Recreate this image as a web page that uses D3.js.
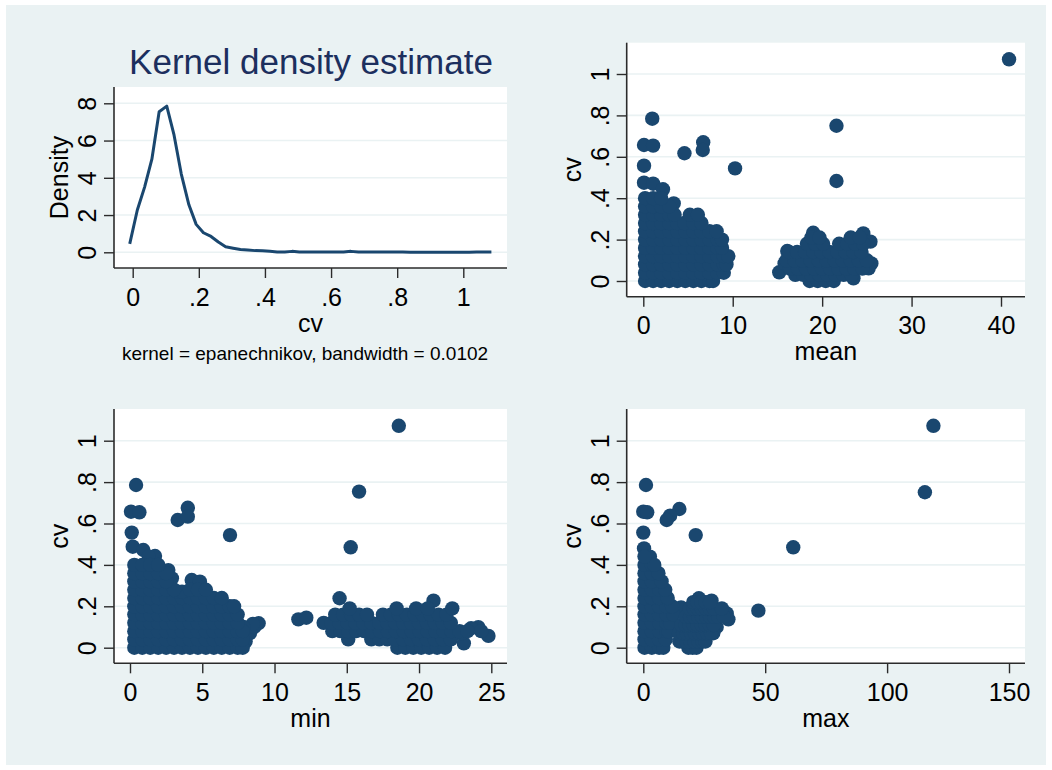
<!DOCTYPE html>
<html>
<head>
<meta charset="utf-8">
<script src="https://cdn.jsdelivr.net/npm/d3@7"></script>
<style>
  body { margin: 0; background: #ffffff; }
  svg { display: block; }
  text { font-family: "Liberation Sans", Arial, Helvetica, sans-serif; }
</style>
</head>
<body>
<svg id="chart" width="1052" height="770"></svg>
<script>
// ---------- data ----------
// Kernel density of cv (evaluation grid and estimated density)
const densityX = [-0.009, 0.014, 0.036, 0.058, 0.080, 0.103, 0.125, 0.147, 0.170, 0.192,
                  0.214, 0.237, 0.259, 0.281, 0.304, 0.326, 0.348, 0.371, 0.393, 0.415,
                  0.437, 0.460, 0.482, 0.504, 0.527, 0.549, 0.571, 0.594, 0.616, 0.638,
                  0.660, 0.683, 0.705, 0.727, 0.750, 0.772, 0.794, 0.817, 0.839, 0.861,
                  0.884, 0.906, 0.928, 0.951, 0.973, 0.995, 1.018, 1.040, 1.062, 1.085];
const densityY = [0.45, 2.27, 3.50, 5.00, 7.55, 7.85, 6.30, 4.20, 2.55, 1.50,
                  1.05, 0.85, 0.55, 0.30, 0.22, 0.15, 0.12, 0.09, 0.08, 0.05,
                  0.02, 0.01, 0.05, 0.02, 0.01, 0.01, 0.01, 0.01, 0.01, 0.02,
                  0.05, 0.01, 0.01, 0.01, 0.02, 0.01, 0.02, 0.01, 0.00, 0.00,
                  0.00, 0.00, 0.00, 0.00, 0.00, 0.00, 0.00, 0.01, 0.01, 0.01];

// cv against mean: [mean, cv]
const meanIsolated = [[40.9,1.071],[1.0,0.784],[0.08,0.657],[1.1,0.654],[4.6,0.617],[6.7,0.670],
  [6.65,0.633],[10.26,0.544],[21.6,0.750],[21.6,0.483],[0.08,0.557],[0.08,0.475],[1.1,0.47],
  [2.2,0.443],[3.4,0.375],[15.2,0.042],[16.1,0.145],[19.0,0.233],[24.6,0.23],[25.4,0.19],
  [25.5,0.085],[25.2,0.061],[23.5,0.013],[15.8,0.085]];
// dense groups, one row per cv level: [cv, [mean values]]
const meanDenseRows = [
  [0.00,[0.2,1.1,2.0,2.9,3.8,4.7,5.6,6.5,7.4,7.8]],
  [0.04,[0.2,1.1,2.0,2.9,3.8,4.7,5.6,6.5,7.4,8.3,9.0]],
  [0.08,[0.2,1.1,2.0,2.9,3.8,4.7,5.6,6.5,7.4,8.3,9.0,9.3]],
  [0.12,[0.2,1.1,2.0,2.9,3.8,4.7,5.6,6.5,7.4,8.3,9.0,9.5]],
  [0.16,[0.2,1.1,2.0,2.9,3.8,4.7,5.6,6.5,7.4,8.3,8.8]],
  [0.20,[0.2,1.1,2.0,2.9,3.8,4.7,5.6,6.5,7.4,8.3,8.8]],
  [0.24,[0.2,1.1,2.0,2.9,3.8,4.7,5.6,6.5,7.4,8.2]],
  [0.28,[0.2,1.1,2.0,2.9,3.8,4.6,5.6,6.5]],
  [0.32,[0.2,1.1,2.0,2.9,3.5,5.2,6.1]],
  [0.36,[0.2,1.1,2.0,2.9]],
  [0.40,[0.2,1.1,2.0]]
];
const meanUpperRows = [
  [0.00,[18.6,19.5,20.4,21.3]],
  [0.03,[17.0,17.9,18.8,19.7,20.6,21.5,22.4,23.3]],
  [0.06,[16.4,17.3,18.2,19.1,20.0,20.9,21.8,22.7,23.6,24.5]],
  [0.10,[16.0,16.9,17.8,18.7,19.6,20.5,21.4,22.3,23.2,24.1,25.0]],
  [0.14,[16.3,17.2,18.1,19.0,19.9,20.8,21.7,22.6,23.5,24.4]],
  [0.18,[18.3,19.2,20.1,21.9,22.8,23.7,24.6]],
  [0.21,[18.8,19.7,23.2,24.2]]
];

// cv against min: [min, cv]
const minIsolated = [[18.6,1.072],[0.42,0.786],[0.07,0.657],[0.65,0.654],[3.3,0.617],[4.0,0.676],
  [4.0,0.633],[6.92,0.544],[15.85,0.754],[15.27,0.485],[0.12,0.556],[0.19,0.488],[0.92,0.472],
  [1.73,0.443],[1.3,0.44],[2.65,0.375],[2.9,0.335],[4.27,0.327],[4.84,0.319],[11.65,0.137],[12.2,0.145],
  [8.0,0.03],[8.3,0.07],[8.6,0.10],[8.9,0.118],[8.5,0.115],[7.85,0.10],
  [14.5,0.239],[21.0,0.227],[24.8,0.057],[24.1,0.099],[23.6,0.094],[23.1,0.021],[22.95,0.07]];
const minDenseRows = [
  [0.00,[0.3,0.85,1.4,1.95,2.5,3.05,3.6,4.15,4.7,5.25,5.8,6.35,6.9,7.45,7.8]],
  [0.04,[0.3,0.85,1.4,1.95,2.5,3.05,3.6,4.15,4.7,5.25,5.8,6.35,6.9,7.45,7.8]],
  [0.08,[0.3,0.85,1.4,1.95,2.5,3.05,3.6,4.15,4.7,5.25,5.8,6.35,6.9,7.45,7.8]],
  [0.12,[0.3,0.85,1.4,1.95,2.5,3.05,3.6,4.15,4.7,5.25,5.8,6.35,6.9,7.45]],
  [0.16,[0.3,0.85,1.4,1.95,2.5,3.05,3.6,4.15,4.7,5.25,5.8,6.35,6.9,7.45]],
  [0.20,[0.3,0.85,1.4,1.95,2.5,3.05,3.6,4.15,4.7,5.25,5.8,6.35,6.9,7.2]],
  [0.24,[0.3,0.85,1.4,1.95,2.5,3.05,3.6,4.15,4.7,5.25,5.8,6.35]],
  [0.27,[3.3,3.6]],
  [0.28,[0.3,0.85,1.4,1.95,2.5,3.05,4.15,4.7,5.25]],
  [0.32,[0.3,0.85,1.4,1.95,2.5]],
  [0.36,[0.3,0.85,1.4,1.95,2.5]],
  [0.40,[0.3,0.85,1.4,1.95]]
];
const minUpperRows = [
  [0.00,[18.5,19.05,19.6,20.15,20.7,21.25,21.8]],
  [0.04,[15.1,16.7,17.25,17.8,18.35,18.9,19.45,20.0,20.55,21.1,21.65,22.2]],
  [0.08,[14.0,14.55,15.1,15.65,16.2,16.75,17.3,17.85,18.4,18.95,19.5,20.05,20.6,21.15,21.7,22.25,22.8,23.35,24.3]],
  [0.12,[13.4,13.95,14.5,15.05,15.6,16.15,16.7,17.25,17.8,18.35,18.9,19.45,20.0,20.55,21.1,21.65,22.2]],
  [0.16,[14.2,14.75,15.3,15.85,16.4,17.5,18.05,18.6,19.15,19.7,20.25,20.8,21.35,21.9]],
  [0.19,[15.2,18.45,19.8,20.6,22.3]]
];

// cv against max: [max, cv]
const maxIsolated = [[119,1.072],[115.5,0.751],[61.5,0.485],[47.2,0.179],[21.5,0.544],[14.8,0.67],
  [11,0.638],[9.6,0.617],[1.1,0.786],[0,0.657],[1.6,0.654],[0,0.556],[0.3,0.48],[2.7,0.44],
  [15.5,0.195],[22.8,0.239],[28.0,0.227],[34.2,0.166],[34.9,0.137],[30.1,0.10],[28.7,0.07]];
const maxDenseRows = [
  [0.00,[0.5,3.5,6.5,8.2]],
  [0.04,[0.5,3.5,6.5,9.2]],
  [0.08,[0.5,3.5,6.5,9.5,10.3]],
  [0.12,[0.5,3.5,6.5,9.5,11.0]],
  [0.16,[0.5,3.5,6.5,9.5,12.3]],
  [0.20,[0.5,3.5,6.5,9.5,11.8]],
  [0.24,[0.5,3.5,6.5,10.0]],
  [0.28,[0.5,3.5,6.5,9.0]],
  [0.32,[0.5,3.5,7.5]],
  [0.36,[0.5,3.5,6.2]],
  [0.40,[0.5,3.5,4.5]],
  [0.44,[0.5]]
];
const maxUpperRows = [
  [0.00,[18.5,20.2,21.8]],
  [0.03,[14.8,16.0,17.7,19.3,21.0,22.6,24.3,25.5]],
  [0.07,[14.6,16.3,17.9,19.6,21.2,22.9,24.5,26.2,27.8]],
  [0.11,[15.7,17.4,19.0,20.7,22.3,24.0,25.6,27.3,28.9]],
  [0.15,[17.5,19.2,20.8,22.5,24.1,25.8,27.4,29.1,30.7,33.0]],
  [0.19,[19.0,20.7,22.3,24.0,25.6,27.3,28.9,32.2]],
  [0.22,[20.5,22.2,23.8,25.6,27.4]]
];

// tick values and labels
const cvTicks = [0, 0.2, 0.4, 0.6, 0.8, 1];
const cvTickLabels = ["0", ".2", ".4", ".6", ".8", "1"];
const densityTicks = [0, 2, 4, 6, 8];
const densityTickLabels = ["0", "2", "4", "6", "8"];
const meanTicks = [0, 10, 20, 30, 40];
const minTicks = [0, 5, 10, 15, 20, 25];
const maxTicks = [0, 50, 100, 150];

// ---------- styling ----------
const BG = "#eaf2f3";
const NAVY = "#1a476f";
const TITLE_COLOR = "#1c2f5e";
const TICK_FONT = 25;
const AXIS_TITLE_FONT = 25;
const R = 7.2;

const svg = d3.select("#chart");
svg.append("rect").attr("x", 0).attr("y", 0).attr("width", 1052).attr("height", 770).attr("fill", "#ffffff");
svg.append("rect").attr("x", 6).attr("y", 5).attr("width", 1040).attr("height", 760).attr("fill", BG);

function rowsToPoints(rows) {
  const out = [];
  rows.forEach(([cv, xs]) => xs.forEach(x => out.push([x, cv])));
  return out;
}

// frame: plot region [left, top, right, bottom]; the scale ranges are the pixel positions of the first/last ticks
const panels = [
  { frame: [114, 87, 507, 268], xDom: [0, 1], xRng: [132.7, 463.3], yDom: [0, 8], yRng: [252.3, 103.3],
    xTicks: cvTicks, xLabels: cvTickLabels, yTicks: densityTicks, yLabels: densityTickLabels,
    xTitle: "cv", yTitle: "Density", kind: "line" },
  { frame: [626.7, 42.7, 1025, 296.7], xDom: [0, 40], xRng: [643.3, 1001], yDom: [0, 1], yRng: [281, 74],
    xTicks: meanTicks, xLabels: meanTicks.map(String), yTicks: cvTicks, yLabels: cvTickLabels,
    xTitle: "mean", yTitle: "cv", kind: "scatter",
    pts: meanIsolated.concat(rowsToPoints(meanDenseRows), rowsToPoints(meanUpperRows)) },
  { frame: [114, 409, 507, 663.3], xDom: [0, 25], xRng: [130, 491.3], yDom: [0, 1], yRng: [647.7, 440.7],
    xTicks: minTicks, xLabels: minTicks.map(String), yTicks: cvTicks, yLabels: cvTickLabels,
    xTitle: "min", yTitle: "cv", kind: "scatter",
    pts: minIsolated.concat(rowsToPoints(minDenseRows), rowsToPoints(minUpperRows)) },
  { frame: [626.7, 409, 1025, 663.3], xDom: [0, 150], xRng: [643.3, 1009], yDom: [0, 1], yRng: [647.7, 440.7],
    xTicks: maxTicks, xLabels: maxTicks.map(String), yTicks: cvTicks, yLabels: cvTickLabels,
    xTitle: "max", yTitle: "cv", kind: "scatter",
    pts: maxIsolated.concat(rowsToPoints(maxDenseRows), rowsToPoints(maxUpperRows)) }
];

panels.forEach(p => {
  const [L, T, Rt, B] = p.frame;
  const x = d3.scaleLinear().domain(p.xDom).range(p.xRng);
  const y = d3.scaleLinear().domain(p.yDom).range(p.yRng);
  const g = svg.append("g");

  // plot region
  g.append("rect").attr("x", L).attr("y", T).attr("width", Rt - L).attr("height", B - T).attr("fill", "#ffffff");

  // horizontal grid lines
  g.append("g").selectAll("line").data(p.yTicks).join("line")
    .attr("x1", L).attr("x2", Rt)
    .attr("y1", d => y(d)).attr("y2", d => y(d))
    .attr("stroke", BG).attr("stroke-width", 1.6);

  // marks
  if (p.kind === "line") {
    const line = d3.line().x((d, i) => x(densityX[i])).y(d => y(d));
    g.append("path").datum(densityY)
      .attr("d", line)
      .attr("fill", "none").attr("stroke", NAVY).attr("stroke-width", 3)
      .attr("stroke-linejoin", "round");
  } else {
    g.append("g").selectAll("circle").data(p.pts).join("circle")
      .attr("cx", d => x(d[0])).attr("cy", d => y(d[1])).attr("r", R)
      .attr("fill", NAVY);
  }

  // x axis
  const xa = g.append("g").attr("transform", `translate(0,${B})`)
    .call(d3.axisBottom(x).tickValues(p.xTicks).tickFormat((d, i) => p.xLabels[i])
      .tickSize(10).tickSizeOuter(0).tickPadding(5));
  xa.select(".domain").remove();
  xa.selectAll(".tick line").attr("stroke", "#2b2b2b").attr("stroke-width", 1.4);
  xa.selectAll(".tick text").attr("y", 37.5).attr("dy", null)
    .attr("font-size", TICK_FONT).attr("fill", "#000").attr("font-family", null);

  // y axis with rotated labels
  const ya = g.append("g").attr("transform", `translate(${L},0)`)
    .call(d3.axisLeft(y).tickValues(p.yTicks).tickFormat((d, i) => p.yLabels[i])
      .tickSize(10).tickSizeOuter(0));
  ya.select(".domain").remove();
  ya.selectAll(".tick line").attr("stroke", "#2b2b2b").attr("stroke-width", 1.4);
  ya.selectAll(".tick text")
    .attr("x", null).attr("dy", null)
    .attr("text-anchor", "middle")
    .attr("transform", "translate(-18,0) rotate(-90)")
    .attr("font-size", TICK_FONT).attr("fill", "#000").attr("font-family", null);

  // axis lines along the plot region edges
  g.append("line").attr("x1", L).attr("x2", L).attr("y1", T).attr("y2", B)
    .attr("stroke", "#2b2b2b").attr("stroke-width", 1.6);
  g.append("line").attr("x1", L).attr("x2", Rt).attr("y1", B).attr("y2", B)
    .attr("stroke", "#2b2b2b").attr("stroke-width", 1.6);

  // axis titles
  g.append("text").attr("x", (L + Rt) / 2).attr("y", B + 63.5)
    .attr("text-anchor", "middle").attr("font-size", AXIS_TITLE_FONT).attr("fill", "#000")
    .text(p.xTitle);
  g.append("text")
    .attr("transform", `translate(${L - 46},${(T + B) / 2}) rotate(-90)`)
    .attr("text-anchor", "middle").attr("font-size", AXIS_TITLE_FONT).attr("fill", "#000")
    .text(p.yTitle);
});

// title and note of the density panel
svg.append("text").attr("x", 311).attr("y", 74).attr("text-anchor", "middle")
  .attr("font-size", 35).attr("fill", TITLE_COLOR)
  .text("Kernel density estimate");
svg.append("text").attr("x", 305).attr("y", 360).attr("text-anchor", "middle")
  .attr("font-size", 19).attr("fill", "#000")
  .text("kernel = epanechnikov, bandwidth = 0.0102");
</script>
</body>
</html>
